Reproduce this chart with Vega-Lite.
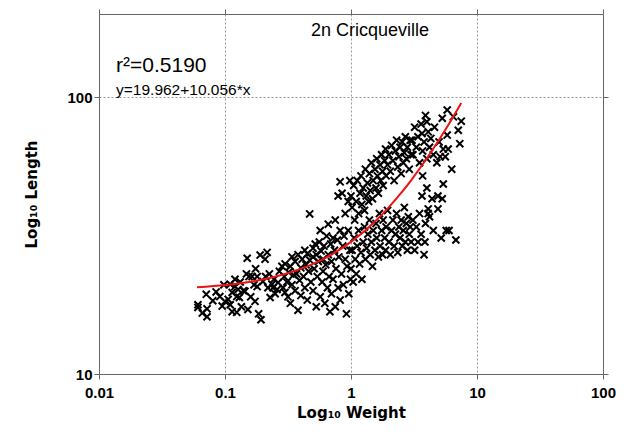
{
  "$schema": "https://vega.github.io/schema/vega-lite/v6.json",
  "width": 504,
  "height": 360,
  "autosize": {"type": "none"},
  "padding": {"left": 99, "top": 14, "right": 27, "bottom": 61},
  "background": "white",
  "config": {
    "view": {"stroke": null},
    "font": "Liberation Sans",
    "axis": {
      "labelFont": "Liberation Sans",
      "titleFont": "DejaVu Sans",
      "labelFontWeight": "bold",
      "labelFontSize": 15,
      "labelColor": "black",
      "titleFontSize": 15,
      "titleFontWeight": "bold",
      "titleColor": "black",
      "domainColor": "#666666",
      "tickColor": "#666666",
      "tickSize": 5,
      "gridColor": "#999999",
      "gridDash": [2, 2],
      "gridWidth": 1,
      "gridOpacity": 1
    }
  },
  "datasets": {
    "points": [
      {"weight":0.061,"length":17.8},{"weight":0.061,"length":17.4},{"weight":0.066,"length":16.6},{"weight":0.071,"length":19.4},{"weight":0.072,"length":17.2},{"weight":0.072,"length":16.1},{"weight":0.08,"length":18.4},{"weight":0.085,"length":19.8},{"weight":0.091,"length":19.05},{"weight":0.095,"length":17.6},{"weight":0.1,"length":18.3},{"weight":0.098,"length":21},
      {"weight":0.106,"length":18.6},{"weight":0.11,"length":21.1},{"weight":0.11,"length":17.8},{"weight":0.114,"length":19.7},{"weight":0.114,"length":16.8},{"weight":0.12,"length":20.7},{"weight":0.12,"length":22},{"weight":0.124,"length":19.05},{"weight":0.124,"length":16.7},{"weight":0.127,"length":20.2},{"weight":0.13,"length":18.9},{"weight":0.132,"length":21.5},{"weight":0.135,"length":17.5},{"weight":0.14,"length":20},{"weight":0.144,"length":19.9},{"weight":0.148,"length":23},{"weight":0.15,"length":26.2},{"weight":0.152,"length":17.1},{"weight":0.155,"length":22.5},{"weight":0.16,"length":19},{"weight":0.164,"length":22.5},{"weight":0.17,"length":21},{"weight":0.173,"length":18.3},{"weight":0.175,"length":24},{"weight":0.18,"length":22.5},{"weight":0.18,"length":20.7},{"weight":0.185,"length":16.5},{"weight":0.19,"length":26.9},{"weight":0.193,"length":15.7},{"weight":0.2,"length":21.6},{"weight":0.208,"length":26},{"weight":0.21,"length":22.5},{"weight":0.216,"length":27.5},{"weight":0.219,"length":20.5},{"weight":0.225,"length":23},{"weight":0.228,"length":18.9},{"weight":0.236,"length":21.1},{"weight":0.24,"length":20.5},{"weight":0.245,"length":22},{"weight":0.25,"length":19.5},{"weight":0.259,"length":20.2},{"weight":0.264,"length":21.4},{"weight":0.27,"length":23.5},{"weight":0.283,"length":24.5},{"weight":0.289,"length":20.5},{"weight":0.295,"length":22.5},{"weight":0.299,"length":19.7},
      {"weight":0.3,"length":25},{"weight":0.31,"length":21.5},{"weight":0.316,"length":19},{"weight":0.32,"length":23.3},{"weight":0.33,"length":24.5},{"weight":0.33,"length":18},{"weight":0.34,"length":26.5},{"weight":0.34,"length":21},{"weight":0.35,"length":22.8},{"weight":0.36,"length":20},{"weight":0.36,"length":25.5},{"weight":0.37,"length":23},{"weight":0.38,"length":17},{"weight":0.38,"length":27},{"weight":0.39,"length":21.8},{"weight":0.4,"length":24.2},{"weight":0.4,"length":19.2},{"weight":0.41,"length":26},{"weight":0.42,"length":22.5},{"weight":0.43,"length":28},{"weight":0.43,"length":20.5},{"weight":0.44,"length":24.8},{"weight":0.45,"length":27.2},{"weight":0.45,"length":18.5},{"weight":0.46,"length":23.5},{"weight":0.47,"length":37.9},{"weight":0.47,"length":25.8},{"weight":0.48,"length":21.5},{"weight":0.5,"length":28.5},{"weight":0.5,"length":26.5},{"weight":0.5,"length":20},{"weight":0.51,"length":24},{"weight":0.52,"length":29.5},{"weight":0.53,"length":27},{"weight":0.53,"length":17.5},{"weight":0.54,"length":22.5},{"weight":0.55,"length":25.5},{"weight":0.56,"length":30},{"weight":0.57,"length":33},{"weight":0.57,"length":19},{"weight":0.58,"length":27.8},{"weight":0.59,"length":21.5},{"weight":0.6,"length":26},{"weight":0.6,"length":23.5},{"weight":0.61,"length":29},{"weight":0.62,"length":18},{"weight":0.63,"length":24.8},{"weight":0.64,"length":31.5},{"weight":0.65,"length":20.5},{"weight":0.66,"length":34.8},{"weight":0.66,"length":27},{"weight":0.67,"length":22.5},{"weight":0.68,"length":16.8},{"weight":0.69,"length":29.5},{"weight":0.7,"length":25.5},{"weight":0.7,"length":19.5},{"weight":0.72,"length":31},{"weight":0.72,"length":22},{"weight":0.74,"length":28},{"weight":0.75,"length":36},{"weight":0.75,"length":17.5},{"weight":0.76,"length":24},{"weight":0.78,"length":30.5},{"weight":0.79,"length":44},{"weight":0.79,"length":20.5},{"weight":0.8,"length":26.5},{"weight":0.82,"length":49.5},{"weight":0.82,"length":33},{"weight":0.82,"length":18.5},{"weight":0.84,"length":23},{"weight":0.85,"length":45},{"weight":0.86,"length":29},{"weight":0.87,"length":21},{"weight":0.88,"length":31.5},{"weight":0.9,"length":38},{"weight":0.9,"length":26},{"weight":0.92,"length":16.5},{"weight":0.93,"length":24.5},{"weight":0.95,"length":42},{"weight":0.95,"length":33},{"weight":0.96,"length":19.5},{"weight":0.98,"length":50},{"weight":0.98,"length":28},{"weight":0.99,"length":22},
      {"weight":1.0,"length":44},{"weight":1.02,"length":40},{"weight":1.05,"length":48},{"weight":1.07,"length":36},{"weight":1.1,"length":42},{"weight":1.12,"length":50},{"weight":1.15,"length":38},{"weight":1.18,"length":45},{"weight":1.2,"length":52},{"weight":1.22,"length":41},{"weight":1.25,"length":47},{"weight":1.28,"length":39},{"weight":1.3,"length":55},{"weight":1.32,"length":44},{"weight":1.35,"length":49},{"weight":1.38,"length":42},{"weight":1.4,"length":53},{"weight":1.42,"length":46},{"weight":1.45,"length":58},{"weight":1.48,"length":43},{"weight":1.5,"length":50},{"weight":1.55,"length":55},{"weight":1.58,"length":47},{"weight":1.6,"length":60},{"weight":1.62,"length":52},{"weight":1.65,"length":45},{"weight":1.7,"length":57},{"weight":1.72,"length":50},{"weight":1.75,"length":62},{"weight":1.78,"length":54},{"weight":1.8,"length":48},{"weight":1.85,"length":59},{"weight":1.88,"length":65},{"weight":1.9,"length":52},{"weight":1.95,"length":57},{"weight":2.0,"length":62},{"weight":2.05,"length":54},{"weight":2.1,"length":67},{"weight":2.15,"length":59},{"weight":2.2,"length":50},{"weight":2.25,"length":64},{"weight":2.3,"length":70},{"weight":2.35,"length":56},{"weight":2.4,"length":61},{"weight":2.45,"length":66},{"weight":2.5,"length":53},{"weight":2.55,"length":69},{"weight":2.6,"length":58},{"weight":2.65,"length":63},{"weight":2.7,"length":72},{"weight":2.75,"length":60},{"weight":2.8,"length":66},{"weight":2.9,"length":55},{"weight":2.95,"length":70},{"weight":3.0,"length":62},
      {"weight":1.0,"length":24},{"weight":1.02,"length":28},{"weight":1.04,"length":21.5},{"weight":1.06,"length":31},{"weight":1.08,"length":26},{"weight":1.1,"length":23},{"weight":1.12,"length":29},{"weight":1.15,"length":33},{"weight":1.17,"length":25},{"weight":1.2,"length":27.5},{"weight":1.22,"length":22},{"weight":1.25,"length":30},{"weight":1.28,"length":34},{"weight":1.3,"length":26},{"weight":1.33,"length":28.5},{"weight":1.36,"length":32},{"weight":1.4,"length":36},{"weight":1.42,"length":27},{"weight":1.45,"length":30},{"weight":1.48,"length":24.5},{"weight":1.5,"length":33},{"weight":1.55,"length":28},{"weight":1.58,"length":35},{"weight":1.6,"length":31},{"weight":1.65,"length":26.5},{"weight":1.68,"length":38},{"weight":1.7,"length":29},{"weight":1.75,"length":33},{"weight":1.78,"length":27},{"weight":1.8,"length":36},{"weight":1.85,"length":31},{"weight":1.88,"length":28},{"weight":1.9,"length":34},{"weight":1.95,"length":39},{"weight":2.0,"length":30},{"weight":2.05,"length":27},{"weight":2.1,"length":33},{"weight":2.15,"length":36},{"weight":2.2,"length":29},{"weight":2.25,"length":32},{"weight":2.3,"length":38},{"weight":2.35,"length":27.5},{"weight":2.4,"length":34},{"weight":2.45,"length":31},{"weight":2.5,"length":36},{"weight":2.55,"length":29},{"weight":2.6,"length":33},{"weight":2.65,"length":40},{"weight":2.7,"length":30},{"weight":2.75,"length":35},{"weight":2.8,"length":28},{"weight":2.85,"length":37},{"weight":2.9,"length":32},{"weight":2.95,"length":34},{"weight":3.0,"length":30},
      {"weight":3.05,"length":70},{"weight":3.1,"length":62},{"weight":3.2,"length":78},{"weight":3.3,"length":66},{"weight":3.4,"length":72},{"weight":3.5,"length":58},{"weight":3.6,"length":80},{"weight":3.66,"length":74},{"weight":3.7,"length":64},{"weight":3.8,"length":69},{"weight":3.9,"length":86},{"weight":4.0,"length":81.6},{"weight":4.0,"length":60},{"weight":4.1,"length":75},{"weight":4.2,"length":66},{"weight":4.3,"length":71},{"weight":4.5,"length":62},{"weight":4.6,"length":78},{"weight":4.8,"length":58},{"weight":5.0,"length":69},{"weight":5.1,"length":61},{"weight":5.3,"length":84},{"weight":5.4,"length":65},{"weight":5.6,"length":61},{"weight":5.8,"length":90},{"weight":5.8,"length":73},{"weight":5.9,"length":65},{"weight":6.3,"length":55},{"weight":6.5,"length":85},{"weight":7.1,"length":76},{"weight":7.3,"length":68},{"weight":7.5,"length":82},
      {"weight":3.1,"length":36},{"weight":3.2,"length":28},{"weight":3.3,"length":34},{"weight":3.4,"length":30},{"weight":3.5,"length":38},{"weight":3.6,"length":32},{"weight":3.66,"length":44},{"weight":3.7,"length":52},{"weight":3.8,"length":27},{"weight":3.86,"length":30},{"weight":3.9,"length":35},{"weight":4.0,"length":47},{"weight":4.1,"length":39.5},{"weight":4.1,"length":38},{"weight":4.2,"length":37},{"weight":4.4,"length":43},{"weight":4.5,"length":33},{"weight":4.9,"length":44},{"weight":4.9,"length":39.5},{"weight":5.2,"length":31},{"weight":5.3,"length":43},{"weight":5.4,"length":48.6},{"weight":5.7,"length":33},{"weight":6.0,"length":33},{"weight":6.8,"length":30.5}
    ],
    "fit": [
      {"weight":0.06,"length":20.565},{"weight":0.1,"length":20.968},{"weight":0.15,"length":21.47},{"weight":0.2,"length":21.973},{"weight":0.3,"length":22.979},{"weight":0.5,"length":24.99},{"weight":0.7,"length":27.001},{"weight":1,"length":30.018},{"weight":1.5,"length":35.046},{"weight":2,"length":40.074},{"weight":2.5,"length":45.1},{"weight":3,"length":50.13},{"weight":4,"length":60.186},{"weight":5,"length":70.242},{"weight":6,"length":80.298},{"weight":7,"length":90.354},{"weight":7.5,"length":95.38}
    ]
  },
  "layer": [
    {
      "data": {"name": "points"},
      "mark": {"type": "point", "shape": "M-1,-1L1,1M-1,1L1,-1", "filled": false, "stroke": "black", "strokeWidth": 2, "size": 50, "opacity": 1, "clip": true},
      "encoding": {
        "x": {"field": "weight", "type": "quantitative", "scale": {"type": "log", "domain": [0.01, 100], "nice": false},
          "axis": {"orient": "bottom", "values": [0.01, 0.1, 1, 10, 100], "format": "~g", "grid": true, "title": "Log₁₀ Weight", "titlePadding": 5, "labelPadding": 6, "labelFlush": false}},
        "y": {"field": "length", "type": "quantitative", "scale": {"type": "log", "domain": [10, 200], "nice": false},
          "axis": {"orient": "left", "values": [10, 100], "format": "~g", "grid": true, "title": "Log₁₀ Length", "titlePadding": 27, "labelPadding": 2, "labelFlush": false}}
      }
    },
    {
      "data": {"name": "fit"},
      "mark": {"type": "line", "color": "#ee1111", "strokeWidth": 2, "interpolate": "monotone"},
      "encoding": {
        "x": {"field": "weight", "type": "quantitative", "axis": {"orient": "top", "values": [0.01, 0.1, 1, 10, 100], "labels": false, "title": null, "grid": false}},
        "y": {"field": "length", "type": "quantitative", "axis": {"orient": "right", "values": [10, 100], "labels": false, "title": null, "grid": false}}
      }
    },
    {
      "data": {"values": [{}]},
      "mark": {"type": "text", "align": "center", "baseline": "middle", "fontSize": 18, "font": "Liberation Sans", "color": "black"},
      "encoding": {"x": {"datum": 1.415, "type": "quantitative", "axis": null}, "y": {"datum": 174, "type": "quantitative", "axis": null}, "text": {"value": "2n Cricqueville"}}
    },
    {
      "data": {"values": [{}]},
      "mark": {"type": "text", "align": "left", "baseline": "middle", "fontSize": 21, "font": "Liberation Sans", "color": "black"},
      "encoding": {"x": {"datum": 0.01365, "type": "quantitative", "axis": null}, "y": {"datum": 130, "type": "quantitative", "axis": null}, "text": {"value": "r²=0.5190"}}
    },
    {
      "data": {"values": [{}]},
      "mark": {"type": "text", "align": "left", "baseline": "middle", "fontSize": 15.5, "font": "Liberation Sans", "color": "black"},
      "encoding": {"x": {"datum": 0.01365, "type": "quantitative", "axis": null}, "y": {"datum": 106.5, "type": "quantitative", "axis": null}, "text": {"value": "y=19.962+10.056*x"}}
    }
  ],
  "resolve": {"axis": {"x": "independent", "y": "independent"}}
}
